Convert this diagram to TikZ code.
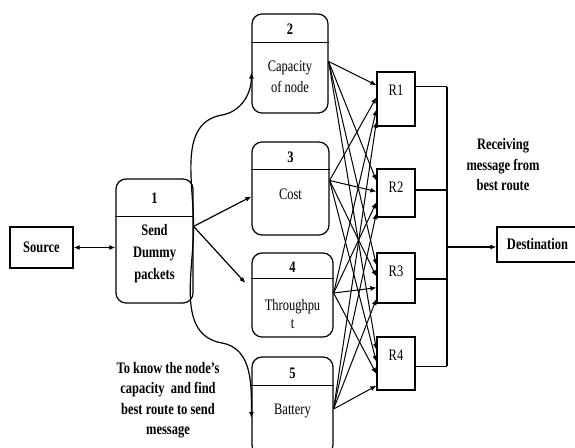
\documentclass[tikz,border=0pt]{standalone}
\usepackage{fontspec}
\setmainfont{Liberation Serif}[FakeStretch=0.78]
\usetikzlibrary{arrows.meta,positioning,calc}

\begin{document}
\begin{tikzpicture}[x=1pt, y=-1pt, line width=1.2pt,
	font=\fontsize{16}{20.5}\selectfont,
	proc/.style={draw, rounded corners=10pt},
	plain/.style={draw},
	num/.style={font=\fontsize{16}{20.5}\selectfont\bfseries},
	bold/.style={font=\fontsize{16}{20.5}\selectfont\bfseries},
	txt/.style={align=center, inner sep=0pt},
	arr/.style={-{Latex[length=6pt,width=5pt]}}]
	\useasboundingbox (0,0) rectangle (575,447);

	% source and first step
	\node[plain, bold, minimum width=63pt, minimum height=41pt] (src) at (41.5,247.5) {Source};
	\node[proc, minimum width=77pt, minimum height=124pt] (n1) at (154.5,241) {};
	\draw ($(n1.north west)+(0,38)$) -- ($(n1.north east)+(0,38)$);
	\node[num] (n1num) at ($(n1.north)+(0,20)$) {1};
	\node[txt, font=\fontsize{16}{22}\selectfont\bfseries] (n1txt) at (154.5,254) {Send\\Dummy\\packets};
	\draw[{Latex[length=6pt,width=5pt]}-{Latex[length=6pt,width=5pt]}] (src) -- (src -| n1.west);

	% parameters
	\node[proc, minimum width=76pt, minimum height=99pt] (n2) at (290,63.5) {};
	\draw ($(n2.north west)+(0,29)$) -- ($(n2.north east)+(0,29)$);
	\node[num] (n2num) at ($(n2.north)+(0,16)$) {2};
	\node[txt] (n2txt) at (290,77) {Capacity\\of node};

	\node[proc, minimum width=77pt, minimum height=93pt] (n3) at (290.5,188.5) {};
	\draw ($(n3.north west)+(0,28)$) -- ($(n3.north east)+(0,28)$);
	\node[num] (n3num) at ($(n3.north)+(0,16)$) {3};
	\node[txt] (n3txt) at (290.5,194) {Cost};

	\node[proc, minimum width=81pt, minimum height=84pt] (n4) at (292.5,295) {};
	\draw ($(n4.north west)+(0,26)$) -- ($(n4.north east)+(0,26)$);
	\node[num] (n4num) at ($(n4.north)+(0,15)$) {4};
	\node[txt, font=\fontsize{16}{18}\selectfont] (n4txt) at (292.5,314) {Throughpu\\t};

	\node[proc, minimum width=81pt, minimum height=98pt] (n5) at (292.5,406) {};
	\draw ($(n5.north west)+(0,29)$) -- ($(n5.north east)+(0,29)$);
	\node[num] (n5num) at ($(n5.north)+(0,17)$) {5};
	\node[txt] (n5txt) at (292.5,411) {Battery};

	% from step 1
	\coordinate (n1out) at ($(n1.north east)+(0,48)$);
	\coordinate (upbend) at (222,115);
	\coordinate (dnbend) at (222,343);
	\draw[arr] (n1out) to[out=90,in=190] (upbend) to[out=10,in=-90] ($(n2.west)+(0,9)$);
	\draw[arr] (n1out) to[out=-90,in=170] (dnbend) to[out=-10,in=90] ($(n5.west)+(0,12)$);
	\draw[arr] (n1out) -- ($(n3.west)+(0,8)$);
	\draw[arr] (n1out) -- ($(n4.west)+(-6,-12)$);

	% routers
	\foreach \r/\y/\h in {1/99/54, 2/193/48, 3/278/50, 4/363.5/53} {
		\node[plain, minimum width=38pt, minimum height=\h pt] (R\r) at (396,\y) {};
		\node (R\r t) at ($(R\r.north)+(0,19)$) {R\r};
	}

	\coordinate (s2) at ($(n2.east)+(0,-2)$);
	\coordinate (s3) at ($(n3.east)+(0,-8)$);
	\coordinate (s4) at ($(n4.east)+(0,-2)$);
	\coordinate (s5) at ($(n5.east)+(0,3)$);
	\foreach \s [count=\i] in {s2,s3,s4,s5}
		\foreach \r in {R1,R2,R3,R4} {
			\pgfmathsetmacro\f{0.03+0.22*\i}
			\draw[arr, line width=1pt] (\s) -- ($(\r.north west)!\f!(\r.south west)$);
		}

	% collecting route
	\coordinate (bus) at (447,0);
	\foreach \r/\f in {R1/0.28, R2/0.44, R3/0.52, R4/0.55} {
		\coordinate (o\r) at ($(\r.north east)!\f!(\r.south east)$);
		\draw (o\r) -- (o\r -| bus);
	}
	\draw (oR1 -| bus) -- (oR4 -| bus);

	\node[plain, bold, minimum width=81pt, minimum height=35pt] (dst) at (537.5,244.5) {Destination};
	\coordinate (busmid) at (447,247);
	\draw[arr] (busmid) -- (busmid -| dst.west);

	% notes
	\node[txt, bold] (recv) at (503,165) {Receiving\\message from\\best route};
	\node[txt, bold] (know) at (168,400) {To know the node's\\capacity\ \ and find\\best route to send\\message};
\end{tikzpicture}
\end{document}
